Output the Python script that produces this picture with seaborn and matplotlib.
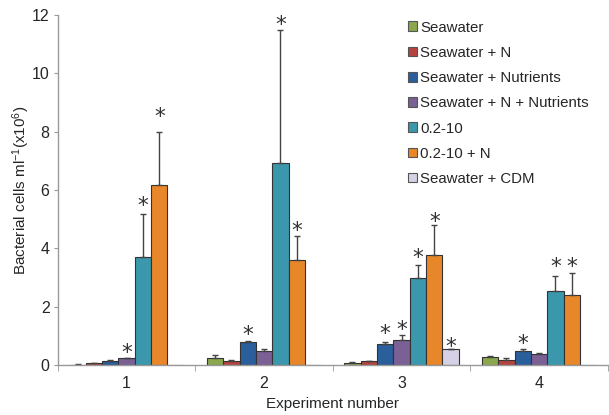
import numpy as np
import pandas as pd
import seaborn as sns
import matplotlib.pyplot as plt

experiments = ["1", "2", "3", "4"]
treatments = ["Seawater", "Seawater + N", "Seawater + Nutrients",
    "Seawater + N + Nutrients", "0.2-10", "0.2-10 + N", "Seawater + CDM"]
colors = ["#8BA84F", "#B5443F", "#2A5F9C", "#7A6095", "#3A97AC", "#E8862A", "#D6D1E4"]

# mean cell counts per treatment, one value per experiment
seawater = [0.02, 0.24, 0.09, 0.27]
seawater_n = [0.07, 0.15, 0.13, 0.19]
nutrients = [0.13, 0.81, 0.73, 0.47]
n_nutrients = [0.24, 0.47, 0.85, 0.40]
frac = [3.70, 6.92, 3.00, 2.54]
frac_n = [6.19, 3.59, 3.78, 2.41]
cdm = [0.02, 0.02, 0.54, 0.02]

# upper error (sd)
seawater_sd = [0.01, 0.10, 0.02, 0.04]
seawater_n_sd = [0.01, 0.02, 0.02, 0.07]
nutrients_sd = [0.06, 0.01, 0.05, 0.07]
n_nutrients_sd = [0.02, 0.07, 0.18, 0.01]
frac_sd = [1.47, 4.58, 0.45, 0.50]
frac_n_sd = [1.79, 0.82, 1.02, 0.74]
cdm_sd = [0.0, 0.0, 0.03, 0.0]

# height of the significance stars (None = no star)
seawater_star = [None, None, None, None]
seawater_n_star = [None, None, None, None]
nutrients_star = [None, 1.26, 1.28, 0.94]
n_nutrients_star = [0.63, None, 1.43, None]
frac_star = [5.66, 11.88, 3.91, 3.58]
frac_n_star = [8.74, 4.83, 5.12, 3.58]
cdm_star = [None, None, 0.86, None]

means = [seawater, seawater_n, nutrients, n_nutrients, frac, frac_n, cdm]
sds = [seawater_sd, seawater_n_sd, nutrients_sd, n_nutrients_sd, frac_sd, frac_n_sd, cdm_sd]
stars = [seawater_star, seawater_n_star, nutrients_star, n_nutrients_star,
    frac_star, frac_n_star, cdm_star]

rows = []
for t, m in zip(treatments, means):
    for e, v in zip(experiments, m):
        rows.append({"experiment": e, "treatment": t, "cells": v})
df = pd.DataFrame(rows)

sns.set_style("white")
plt.rcParams["font.family"] = ["Liberation Sans", "DejaVu Sans"]
plt.rcParams["mathtext.fontset"] = "custom"
plt.rcParams["mathtext.rm"] = "Liberation Sans"
plt.rcParams["mathtext.it"] = "Liberation Sans:italic"

fig, ax = plt.subplots(figsize=(6.09, 4.15), dpi=100)
fig.subplots_adjust(left=0.095, right=0.998, bottom=0.12, top=0.964)

sns.barplot(data=df, x="experiment", y="cells", hue="treatment",
    hue_order=treatments, palette=colors, saturation=1, width=0.833, errorbar=None,
    edgecolor="#333333", linewidth=0.8, ax=ax)

for cont, sd, st in zip(ax.containers, sds, stars):
    for bar, err, s in zip(cont, sd, st):
        x = bar.get_x() + bar.get_width() / 2
        h = bar.get_height()
        if err > 0:
            ax.errorbar(x, h, yerr=[[0], [err]], fmt="none", ecolor="#444444",
                elinewidth=1, capsize=2.5, capthick=1)
        if s is not None:
            ax.annotate("*", (x, s), xytext=(0, -9), textcoords="offset points",
                ha="center", va="baseline", fontsize=15.5, color="#333333",
                family="DejaVu Sans")

ax.set_ylim(0, 12)
ax.set_xlim(-0.5, 3.5)
ax.set_yticks(range(0, 13, 2))
ax.set_xticks(range(4))
ax.set_xticks(np.arange(-0.5, 3.6, 1), minor=True)
ax.tick_params(axis="x", which="major", length=0, labelsize=11.5, pad=8)
ax.tick_params(axis="x", which="minor", length=4, color="#999999", direction="out")
ax.tick_params(axis="y", length=3, color="#999999", direction="out", labelsize=11.5, pad=3)
ax.xaxis.set_ticks_position("bottom")
ax.yaxis.set_ticks_position("left")

sns.despine(ax=ax)
for sp in ["left", "bottom"]:
    ax.spines[sp].set_color("#999999")
    ax.spines[sp].set_linewidth(1)

ax.set_xlabel("Experiment number", fontsize=11, labelpad=4)
ax.set_ylabel(r"Bacterial cells ml$^{-1}$(x10$^{6}$)", fontsize=11, labelpad=0)

leg = ax.legend(loc="upper left", bbox_to_anchor=(0.66, 0.965), bbox_transform=fig.transFigure,
    frameon=False, fontsize=10.8, handlelength=0.6, handleheight=0.6,
    handletextpad=0.2, labelspacing=0.75, borderaxespad=0)
for h in leg.legend_handles:
    h.set_edgecolor("#555555")
    h.set_linewidth(0.8)

plt.savefig("out.png", dpi=100)
